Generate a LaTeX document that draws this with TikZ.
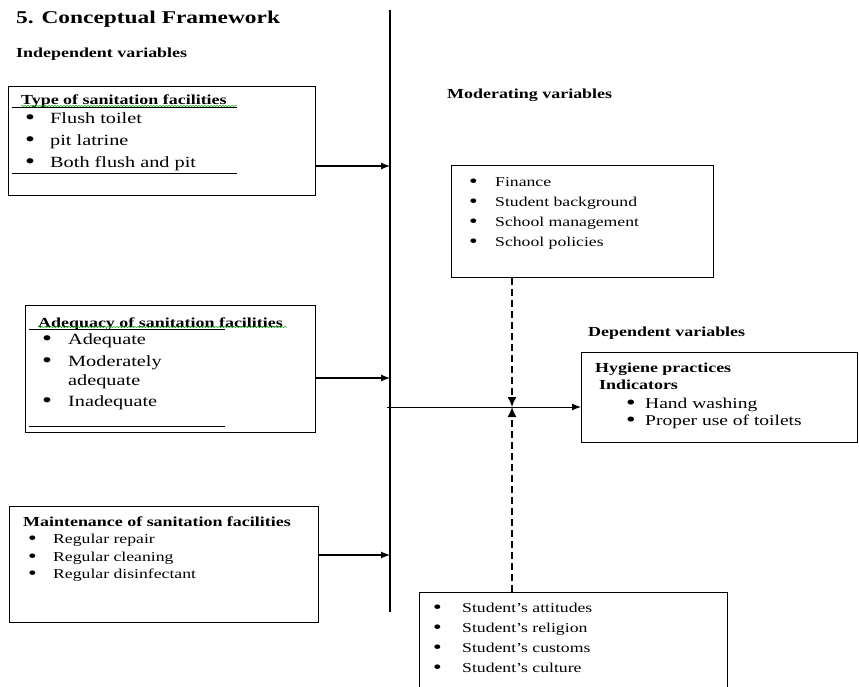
\documentclass[tikz,border=0pt]{standalone}
\usepackage{fontspec}
\setmainfont{Liberation Serif}[FakeStretch=1.3]
\usetikzlibrary{arrows.meta,decorations.pathmorphing}

\newcommand{\itm}[2]{\makebox[#1][l]{\raisebox{-.1em}{\scalebox{1.4}{\textbullet}}}#2}

\begin{document}
\begin{tikzpicture}[x=1pt,y=-1pt,>={Latex[length=9pt,width=7pt]},
                box/.style={draw,line width=1.2pt,anchor=north west,inner sep=0pt},
                lbl/.style={anchor=west,inner sep=0pt,yshift=-3pt,text height=.62em,text depth=.2em},
                head/.style={lbl,font=\fontsize{13.8}{16}\selectfont\bfseries},
                big/.style={lbl,font=\fontsize{15.6}{18}\selectfont},
                small/.style={lbl,font=\fontsize{13.6}{16}\selectfont},
                bus/.style={line width=1.2pt},
                modlink/.style={line width=1.5pt,dash pattern=on 7pt off 4pt},
                squiggle/.style={green!60!black,line width=.5pt,decorate,
                  decoration={snake,amplitude=.5pt,segment length=3pt}}]
	\clip (0,0) rectangle (859,687);

	\node[lbl,font=\fontsize{18}{20}\selectfont\bfseries] (title) at (16,18) {5. Conceptual Framework};
	\node[head] (indep) at (16,52) {Independent variables};
	\node[head] (moderlab) at (447,93) {Moderating variables};
	\node[head] (deplab) at (588,331) {Dependent variables};

	% independent boxes
	\node[box,minimum width=307pt,minimum height=109pt] (type) at (8,86) {};
	\node[head] (typehd) at (21,99) {Type of sanitation facilities};
	\node[big] (type1) at (25,118) {\itm{25pt}{Flush toilet}};
	\node[big] (type2) at (25,140) {\itm{25pt}{pit latrine}};
	\node[big] (type3) at (25,162) {\itm{25pt}{Both flush and pit}};
	\draw[squiggle] (21,106) -- (237,106);
	\draw[line width=1pt] (12,108) -- (237,108);
	\draw[line width=1pt] (12,174) -- (237,174);

	\node[box,minimum width=290pt,minimum height=127pt] (adeq) at (25,305) {};
	\node[head] (adeqhd) at (38,322) {Adequacy of sanitation facilities};
	\node[big] (adeq1) at (42,339) {\itm{26pt}{Adequate}};
	\node[big] (adeq2) at (42,361) {\itm{26pt}{Moderately}};
	\node[big] (adeq2b) at (68,380) {adequate};
	\node[big] (adeq3) at (42,401) {\itm{26pt}{Inadequate}};
	\draw[squiggle] (38,327) -- (287,327);
	\draw[line width=1pt] (29,329) -- (225,329);
	\draw[line width=1pt] (29,426) -- (225,426);

	\node[box,minimum width=309pt,minimum height=116pt] (maint) at (9,506) {};
	\node[head] (mainthd) at (23,521) {Maintenance of sanitation facilities};
	\node[small] (maint1) at (28,538) {\itm{25pt}{Regular repair}};
	\node[small] (maint2) at (28,556) {\itm{25pt}{Regular cleaning}};
	\node[small] (maint3) at (28,573) {\itm{25pt}{Regular disinfectant}};

	% moderating boxes
	\node[box,minimum width=262pt,minimum height=112pt] (moder) at (451,165) {};
	\node[small] (moder1) at (469,181) {\itm{26pt}{Finance}};
	\node[small] (moder2) at (469,201) {\itm{26pt}{Student background}};
	\node[small] (moder3) at (469,221) {\itm{26pt}{School management}};
	\node[small] (moder4) at (469,241) {\itm{26pt}{School policies}};

	\node[box,minimum width=308pt,minimum height=120pt] (stud) at (419,592) {};
	\node[small] (stud1) at (433,607) {\itm{29pt}{Student’s attitudes}};
	\node[small] (stud2) at (433,627) {\itm{29pt}{Student’s religion}};
	\node[small] (stud3) at (433,647) {\itm{29pt}{Student’s customs}};
	\node[small] (stud4) at (433,667) {\itm{29pt}{Student’s culture}};

	% dependent box
	\node[box,minimum width=276pt,minimum height=90pt] (hyg) at (581,352) {};
	\node[head] (hyghd) at (595,367) {Hygiene practices};
	\node[head] (indic) at (599,384) {Indicators};
	\node[big,font=\fontsize{15}{17}\selectfont] (hyg1) at (626,403) {\itm{19pt}{Hand washing}};
	\node[big,font=\fontsize{15}{17}\selectfont] (hyg2) at (626,420) {\itm{19pt}{Proper use of toilets}};

	% connectors
	\coordinate (bustop) at (390,10);
	\coordinate (busbot) at (390,612);
	\coordinate (t1) at (390,166);
	\coordinate (t2) at (390,378);
	\coordinate (t3) at (390,555);
	\coordinate (hstart) at (387,407);
	\coordinate (meet) at (512,407);
	\draw[bus] (bustop) -- (busbot);
	\path[->,bus]
	(type.east |- t1) edge (t1)
	(adeq.east |- t2) edge (t2)
	(maint.east |- t3) edge (t3);
	\draw[->,line width=1pt] (hstart) -- (hyg.west |- hstart);
	\draw[-{Latex[length=10pt,width=9pt]},modlink] (moder.south -| meet) -- (meet);
	\draw[-{Latex[length=10pt,width=9pt]},modlink] (stud.north -| meet) -- (meet);

\end{tikzpicture}
\end{document}
